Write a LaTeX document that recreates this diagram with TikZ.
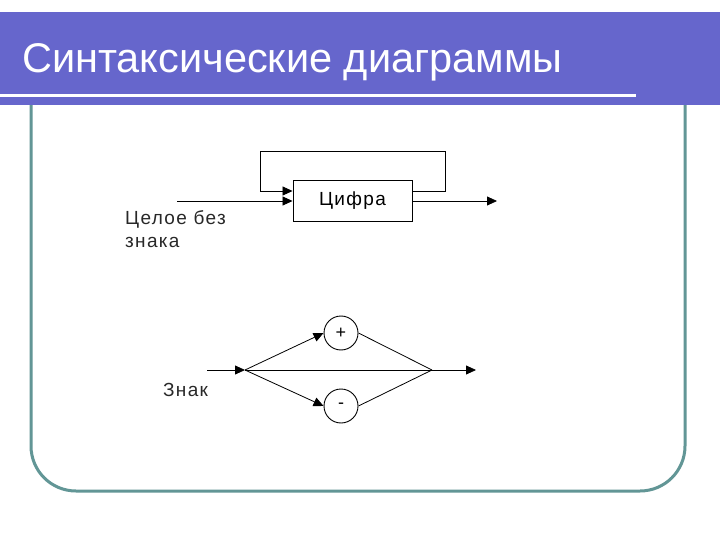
\documentclass[tikz,border=0pt]{standalone}
\usepackage{fontspec}
\setmainfont{Liberation Sans}
\newfontfamily\lblfont[LetterSpace=7]{Liberation Sans}
\usetikzlibrary{arrows.meta}
\definecolor{barblue}{RGB}{102,102,204}
\definecolor{frameteal}{RGB}{98,150,150}
\definecolor{lbltext}{RGB}{40,40,40}
\tikzset{
  conn/.style={draw, line width=0.8pt},
  arr/.style={conn, -{Triangle[length=10pt,width=9pt]}},
  digitbox/.style={draw, line width=0.9pt, minimum width=119pt, minimum height=41pt, inner sep=0pt, font=\lblfont\fontsize{19}{21}\selectfont},
  signcirc/.style={draw, circle, line width=0.9pt, minimum size=34pt, inner sep=0pt, font=\fontsize{18}{20}\selectfont},
  lbl/.style={anchor=west, inner sep=0pt, align=left, text=lbltext, font=\lblfont\fontsize{19}{23}\selectfont}
}
\begin{document}
\begin{tikzpicture}[x=1pt,y=-1pt]
\useasboundingbox (0,0) rectangle (720,540);
\fill[white] (0,0) rectangle (720,540);

\draw[frameteal, line width=3pt, rounded corners=45pt] (31,60) rectangle (685,491);
\fill[barblue] (0,12) rectangle (720,105);
\draw[white, line width=3pt] (0,96) -- (636,96);
\node[anchor=base west, inner sep=0pt, text=white, font=\fontsize{41.5}{44}\selectfont] (title) at (22,73) {Синтаксические диаграммы};

% unsigned integer
\node[digitbox] (digit) at (352.5,201) {Цифра};
\coordinate (in) at (177,201);
\coordinate (out) at (497,201);
\coordinate (loopr) at (445,191);
\coordinate (loopl) at (260,191);
\draw[arr] (in) -- (digit.west);
\draw[arr] (digit.east) -- (out);
\draw[arr] (digit.east |- loopr) -- (loopr) -- ++(0,-40) -| (loopl) -- (digit.west |- loopl);
\node[lbl] (intlabel) at (125,229) {Целое без\\знака};

% sign
\node[signcirc] (plus) at (341,333) {+};
\node[signcirc] (minus) at (341,406) {-};
\coordinate (start) at (207,370);
\coordinate (split) at (245,370);
\coordinate (join) at (432,370);
\coordinate (end) at (476,370);
\draw[arr] (start) -- (split);
\draw[conn] (split) -- (join);
\draw[arr] (join) -- (end);
\draw[arr] (split) -- (plus.west);
\draw[arr] (split) -- (minus.west);
\draw[conn] (plus.east) -- (join);
\draw[conn] (minus.east) -- (join);
\node[lbl] (signlabel) at (163,390) {Знак};
\end{tikzpicture}
\end{document}
